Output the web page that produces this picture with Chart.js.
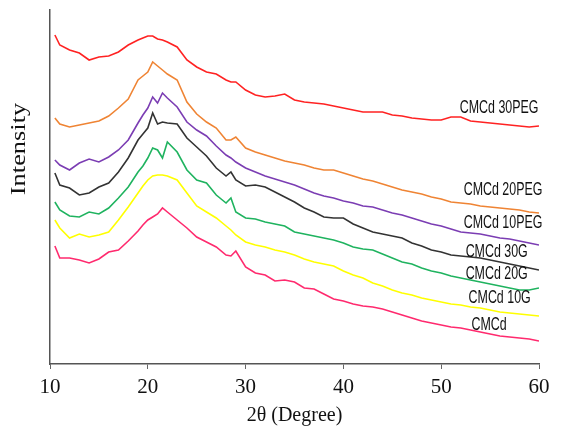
<!DOCTYPE html>
<html>
<head>
<meta charset="utf-8">
<script src="https://cdn.jsdelivr.net/npm/chart.js@4.4.1/dist/chart.umd.min.js"></script>
<style>
  html, body { margin: 0; padding: 0; background: #fff; }
</style>
</head>
<body>
<canvas id="xrd" width="562" height="433"></canvas>
<script>
// 2-theta positions (degree) where each pattern was read
const twoTheta = [10.5, 11, 12, 13, 14, 15, 16, 17, 18, 19, 19.5, 20, 20.5, 21, 21.5,
  22, 23, 24, 25, 26, 27, 28, 28.5, 29, 30, 31, 32, 33, 34, 35, 36, 37, 38, 39, 40,
  41, 42, 43, 44, 45, 46, 47, 48, 49, 50, 51, 52, 53, 54, 55, 56, 57, 58, 59, 60];

// intensities (arbitrary units, patterns stacked)
const cmcd30PEG = [329, 319, 314, 311, 304, 307, 308, 312, 319, 324, 326, 328, 328, 325, 324,
  322, 317, 304, 297, 292, 290, 284, 282, 282, 274, 269, 267, 268, 270, 264, 262, 261, 260, 258, 256,
  254, 252, 252, 252, 249, 248, 246, 245, 244, 244, 247, 247, 243, 242, 241, 240, 239, 238, 237, 238];
const cmcd20PEG = [246, 240, 237, 239, 241, 243, 248, 256, 265, 284, 288, 292, 302, 298, 294,
  290, 284, 262, 250, 242, 236, 224, 224, 227, 216, 212, 209, 206, 203, 201, 199, 196, 194, 194, 191,
  188, 185, 183, 180, 177, 174, 172, 170, 167, 165, 162, 161, 160, 158, 157, 156, 155, 154, 152, 151];
const cmcd10PEG = [204, 199, 194, 201, 205, 202, 207, 214, 224, 241, 249, 256, 267, 261, 271,
  266, 257, 242, 234, 228, 218, 209, 206, 202, 196, 192, 188, 185, 182, 179, 175, 171, 168, 166, 163,
  161, 158, 157, 154, 151, 149, 146, 143, 140, 138, 135, 132, 131, 130, 128, 126, 125, 123, 121, 119];
const cmcd30G = [191, 179, 176, 169, 171, 177, 181, 192, 206, 224, 230, 236, 251, 240, 242,
  241, 240, 226, 217, 208, 196, 188, 192, 184, 178, 179, 177, 172, 167, 162, 156, 152, 147, 146, 146,
  140, 136, 132, 130, 128, 126, 121, 118, 114, 112, 109, 108, 107, 106, 104, 102, 100, 98, 96, 94];
const cmcd20G = [162, 154, 148, 147, 152, 150, 156, 166, 177, 192, 198, 206, 216, 214, 206,
  222, 212, 194, 184, 181, 169, 161, 166, 152, 146, 145, 142, 140, 138, 132, 130, 128, 126, 124, 121,
  117, 115, 114, 110, 106, 102, 100, 96, 93, 91, 88, 86, 84, 82, 80, 78, 76, 74, 74, 76];
const cmcd10G = [144, 136, 126, 130, 127, 129, 132, 144, 157, 171, 178, 184, 188, 189, 189,
  188, 184, 171, 158, 152, 146, 138, 134, 129, 122, 119, 117, 114, 112, 109, 105, 102, 100, 98, 93,
  89, 86, 81, 78, 74, 71, 69, 66, 64, 62, 60, 59, 57, 56, 54, 52, 51, 50, 49, 48];
const cmcd = [118, 106, 106, 104, 101, 105, 112, 114, 123, 133, 139, 144, 147, 150, 156,
  152, 144, 136, 127, 122, 117, 109, 108, 113, 97, 91, 89, 83, 84, 82, 76, 75, 70, 65, 63,
  60, 58, 57, 55, 52, 49, 46, 43, 41, 39, 37, 36, 34, 32, 30, 28, 27, 26, 25, 23];

const sampleNames = ['CMCd 30PEG', 'CMCd 20PEG', 'CMCd 10PEG', 'CMCd 30G', 'CMCd 20G', 'CMCd 10G', 'CMCd'];
const xTicks = [10, 20, 30, 40, 50, 60];

const series = [cmcd30PEG, cmcd20PEG, cmcd10PEG, cmcd30G, cmcd20G, cmcd10G, cmcd];
const colors = ['#ff2222', '#ef8434', '#7b3db3', '#333333', '#1fb35f', '#ffff00', '#ff2a6e'];
// where each name sits, in (2theta, intensity)
const tagAt = [[51.9, 256], [52.3, 174], [52.3, 141], [52.5, 112], [52.5, 90], [52.8, 66], [53.1, 39]];

const serif = '"Liberation Serif", "Times New Roman", serif';

const tags = {
  id: 'tags',
  afterDatasetsDraw(chart) {
    const {ctx, scales: {x, y}} = chart;
    ctx.save();
    ctx.fillStyle = '#111';
    ctx.textBaseline = 'middle';
    ctx.font = '18px "Liberation Sans", Arial, sans-serif';
    chart.data.datasets.forEach((ds, i) => {
      ctx.save();
      ctx.translate(x.getPixelForValue(tagAt[i][0]), y.getPixelForValue(tagAt[i][1]));
      ctx.scale(0.69, 1);
      ctx.fillText(ds.label, 0, 0);
      ctx.restore();
    });
    // y title sits above the middle of the axis, drawn a bit stretched like the original
    ctx.translate(19, y.getPixelForValue(215));
    ctx.rotate(-Math.PI / 2);
    ctx.scale(1.2, 1);
    ctx.textAlign = 'center';
    ctx.font = '22px ' + serif;
    ctx.fillText('Intensity', 0, 0);
    ctx.restore();
  }
};

new Chart(document.getElementById('xrd'), {
  type: 'line',
  data: {
    datasets: series.map((s, i) => ({
      label: sampleNames[i],
      data: s.map((v, j) => ({x: twoTheta[j], y: v})),
      borderColor: colors[i],
      borderWidth: 1.6,
      pointRadius: 0,
      tension: 0,
      fill: false
    }))
  },
  options: {
    responsive: false,
    animation: false,
    events: [],
    layout: {padding: {top: 10, right: 23, left: 0, bottom: 0}},
    plugins: {legend: {display: false}, tooltip: {enabled: false}},
    scales: {
      x: {
        type: 'linear',
        min: 10,
        max: 60,
        afterBuildTicks(scale) { scale.ticks = xTicks.map(v => ({value: v})); },
        afterFit(scale) { scale.height = 69; },
        ticks: {color: '#111', padding: 6, font: {family: serif, size: 21}},
        grid: {display: true, drawOnChartArea: false, drawTicks: true, tickLength: 5, color: '#666'},
        border: {display: true, color: '#555', width: 1.5},
        title: {display: true, text: '2θ (Degree)', color: '#111', padding: {top: 0, bottom: 5},
          font: {family: serif, size: 20}}
      },
      y: {
        min: 0,
        max: 354,
        afterFit(scale) { scale.width = 50; },
        ticks: {display: false},
        grid: {display: false},
        border: {display: true, color: '#555', width: 1.5}
      }
    }
  },
  plugins: [tags]
});
</script>
</body>
</html>
